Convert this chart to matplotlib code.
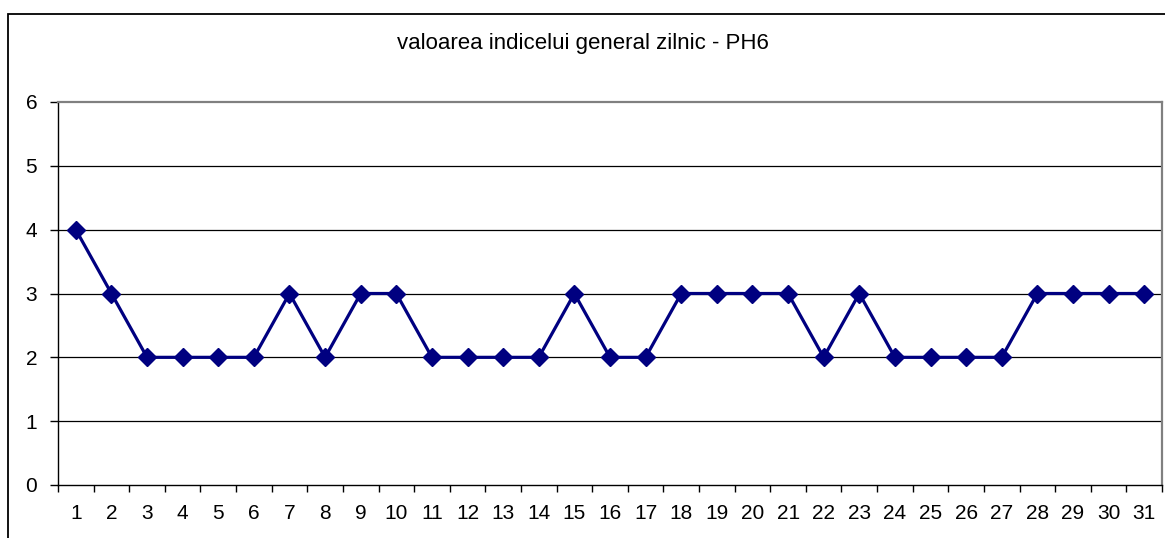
import matplotlib.pyplot as plt
from matplotlib.patches import Rectangle

plt.rcParams['font.family'] = ['Liberation Sans', 'DejaVu Sans']

# daily general index values, PH6
days = list(range(1, 32))
values = [4, 3, 2, 2, 2, 2, 3, 2, 3, 3, 2, 2, 2, 2, 3, 2,
          2, 3, 3, 3, 3, 2, 3, 2, 2, 2, 2, 3, 3, 3, 3]
title = "valoarea indicelui general zilnic - PH6"

fig = plt.figure(figsize=(11.65, 5.38), dpi=100)
ax = fig.add_axes([58 / 1165, 1 - 485 / 538, (1162 - 58) / 1165, (485 - 102) / 538])

ax.plot(days, values, color='#000080', lw=2.3, marker='D', markersize=9,
        markerfacecolor='#000080', markeredgecolor='#000080', zorder=3, clip_on=False)

ax.set_xlim(0.5, 31.5)
ax.set_ylim(0, 6)
ax.set_yticks(range(0, 7))
ax.set_xticks([d + 0.5 for d in range(0, 32)])
ax.set_xticklabels([])
ax.set_xticks(days, minor=True)
ax.set_xticklabels([str(d) for d in days], minor=True)
ax.tick_params(axis='x', which='minor', length=0, labelsize=15, pad=14)
ax.tick_params(axis='x', which='major', length=5, width=1, color='black')
ax.tick_params(axis='y', length=6, width=1, labelsize=15, pad=9)

for y in range(1, 6):
    ax.axhline(y, color='black', lw=0.9, zorder=1)

ax.spines['left'].set_color('black')
ax.spines['bottom'].set_color('black')
ax.spines['left'].set_linewidth(1.0)
ax.spines['bottom'].set_linewidth(1.0)
ax.spines['top'].set_color('#808080')
ax.spines['right'].set_color('#808080')
ax.spines['top'].set_linewidth(1.6)
ax.spines['right'].set_linewidth(1.6)

fig.text(0.5, 1 - 43 / 538, title, ha='center', va='center', fontsize=16)

# chart frame, cut off at right and bottom like the source picture
fig.patches.append(Rectangle((8 / 1165, -0.05), 1.1, 1 - 14 / 538 + 0.05,
                             transform=fig.transFigure, fill=False,
                             edgecolor='black', lw=1.3))

fig.savefig('out.png', dpi=100)
